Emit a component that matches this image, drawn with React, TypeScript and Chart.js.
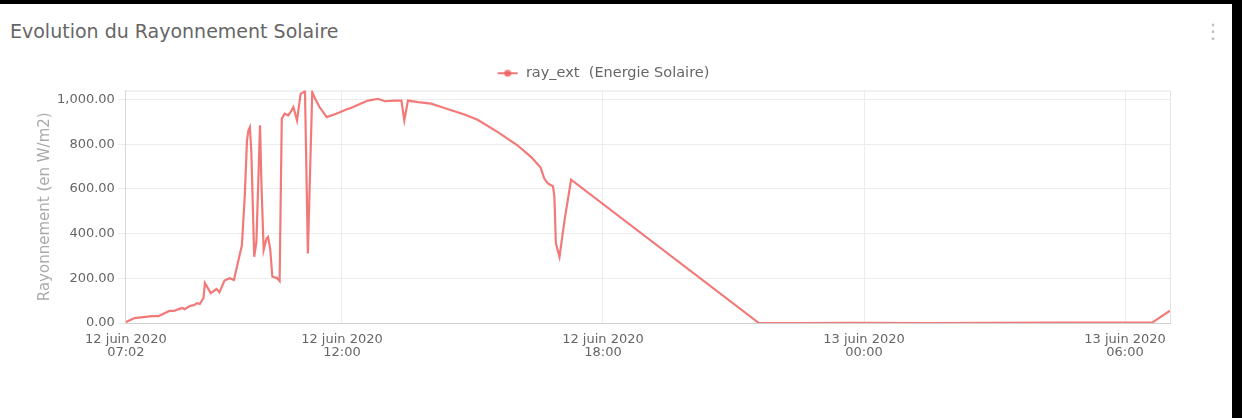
import React, { useEffect, useRef } from "react";
import { Chart, registerables } from "chart.js";

Chart.register(...registerables);

const titleText = "Evolution du Rayonnement Solaire";
const seriesLabel = "ray_ext  (Energie Solaire)";
const yAxisTitle = "Rayonnement (en W/m2)";
const monthName = "juin";

const times = [
  "2020-06-12 07:02", "2020-06-12 07:14", "2020-06-12 07:38", "2020-06-12 07:47", "2020-06-12 07:56",
  "2020-06-12 08:02", "2020-06-12 08:08", "2020-06-12 08:15", "2020-06-12 08:20", "2020-06-12 08:23",
  "2020-06-12 08:30", "2020-06-12 08:36", "2020-06-12 08:40", "2020-06-12 08:44", "2020-06-12 08:49",
  "2020-06-12 08:51", "2020-06-12 08:59", "2020-06-12 09:07", "2020-06-12 09:11", "2020-06-12 09:18",
  "2020-06-12 09:25", "2020-06-12 09:31", "2020-06-12 09:42", "2020-06-12 09:46", "2020-06-12 09:49",
  "2020-06-12 09:51", "2020-06-12 09:53", "2020-06-12 09:55", "2020-06-12 09:59", "2020-06-12 10:02",
  "2020-06-12 10:07", "2020-06-12 10:09", "2020-06-12 10:12", "2020-06-12 10:16", "2020-06-12 10:18",
  "2020-06-12 10:21", "2020-06-12 10:24", "2020-06-12 10:30", "2020-06-12 10:34", "2020-06-12 10:37",
  "2020-06-12 10:41", "2020-06-12 10:46", "2020-06-12 10:49", "2020-06-12 10:53", "2020-06-12 10:55",
  "2020-06-12 10:58", "2020-06-12 11:03", "2020-06-12 11:09", "2020-06-12 11:13", "2020-06-12 11:19",
  "2020-06-12 11:22", "2020-06-12 11:29", "2020-06-12 11:39", "2020-06-12 11:52", "2020-06-12 12:06",
  "2020-06-12 12:13", "2020-06-12 12:24", "2020-06-12 12:36", "2020-06-12 12:50", "2020-06-12 12:59",
  "2020-06-12 13:13", "2020-06-12 13:22", "2020-06-12 13:26", "2020-06-12 13:31", "2020-06-12 13:45",
  "2020-06-12 14:03", "2020-06-12 14:17", "2020-06-12 14:49", "2020-06-12 15:07", "2020-06-12 15:35",
  "2020-06-12 16:02", "2020-06-12 16:21", "2020-06-12 16:34", "2020-06-12 16:39", "2020-06-12 16:44",
  "2020-06-12 16:51", "2020-06-12 16:53", "2020-06-12 16:55", "2020-06-12 17:00", "2020-06-12 17:07",
  "2020-06-12 17:16", "2020-06-12 21:35", "2020-06-12 22:30", "2020-06-12 23:45", "2020-06-13 01:30",
  "2020-06-13 03:00", "2020-06-13 04:30", "2020-06-13 05:45", "2020-06-13 06:38", "2020-06-13 07:02",
];

const rayExt = [
  4, 22, 31, 31, 45,
  54, 54, 62, 67, 62,
  76, 80, 89, 85, 112,
  179, 134, 152, 138, 190,
  200, 192, 348, 571, 817,
  862, 876, 765, 296, 363,
  884, 616, 326, 378, 385,
  333, 207, 202, 187, 914,
  936, 929, 943, 966, 943,
  906, 1025, 1036, 311, 1033,
  1010, 966, 921, 936, 955,
  963, 978, 995, 1003, 992,
  995, 995, 906, 995, 988,
  981, 966, 933, 909, 854,
  795, 742, 695, 646, 624,
  612, 564, 357, 296, 460,
  641, 0, 0, 1, 0,
  1, 2, 2, 3, 55,
];

const xTickTimes = ["2020-06-12 07:02", "2020-06-12 12:00", "2020-06-12 18:00", "2020-06-13 00:00", "2020-06-13 06:00"];
const yTickValues = [0, 200, 400, 600, 800, 1000];
const yMax = 1040;

function toMinutes(s: string): number {
  const day = parseInt(s.slice(8, 10), 10);
  const hh = parseInt(s.slice(11, 13), 10);
  const mm = parseInt(s.slice(14, 16), 10);
  return (day - 12) * 1440 + hh * 60 + mm;
}

function minutesLabel(m: number): string[] {
  const day = 12 + Math.floor(m / 1440);
  const r = m - Math.floor(m / 1440) * 1440;
  const hh = Math.floor(r / 60);
  const mm = Math.round(r - hh * 60);
  const p = (n: number) => (n < 10 ? "0" + n : "" + n);
  return [day + " " + monthName + " 2020", p(hh) + ":" + p(mm)];
}

const lineColor = "rgba(240, 92, 92, 0.82)";
const font = "'DejaVu Sans', sans-serif";

export default function App() {
  const ref = useRef<HTMLCanvasElement | null>(null);

  useEffect(() => {
    document.body.style.margin = "0";
    const canvas = ref.current;
    if (!canvas) return;

    const icon = document.createElement("canvas");
    icon.width = 22;
    icon.height = 10;
    const ic = icon.getContext("2d");
    if (ic) {
      ic.strokeStyle = lineColor;
      ic.lineWidth = 2;
      ic.beginPath();
      ic.moveTo(1, 5);
      ic.lineTo(21, 5);
      ic.stroke();
      ic.fillStyle = lineColor;
      ic.beginPath();
      ic.arc(11, 5, 3.5, 0, Math.PI * 2);
      ic.fill();
    }

    const pts = times.map((t, i) => ({ x: toMinutes(t), y: rayExt[i] }));
    const xMin = toMinutes(times[0]);
    const xMax = toMinutes(times[times.length - 1]);
    const xTicks = xTickTimes.map(toMinutes);

    const borderPlugin = {
      id: "areaBorder",
      beforeDatasetsDraw(chart: any) {
        const { ctx, chartArea } = chart;
        ctx.save();
        ctx.strokeStyle = "#e4e4e4";
        ctx.lineWidth = 1;
        ctx.beginPath();
        ctx.moveTo(chartArea.left, chartArea.top + 0.5);
        ctx.lineTo(chartArea.right + 0.5, chartArea.top + 0.5);
        ctx.lineTo(chartArea.right + 0.5, chartArea.bottom);
        ctx.stroke();
        ctx.restore();
      },
    };

    const chart = new Chart(canvas, {
      type: "line",
      data: {
        datasets: [
          {
            label: seriesLabel,
            data: pts,
            borderColor: lineColor,
            backgroundColor: lineColor,
            borderWidth: 2.2,
            pointRadius: 0,
            pointHoverRadius: 0,
            tension: 0,
            fill: false,
          },
        ],
      },
      options: {
        animation: false,
        responsive: false,
        maintainAspectRatio: false,
        layout: { padding: { top: 52, left: 36, right: 62, bottom: 49 } },
        plugins: {
          legend: {
            display: true,
            position: "top",
            labels: {
              usePointStyle: true,
              pointStyleWidth: 22,
              color: "#666",
              font: { family: font, size: 14.5 },
              padding: 10,
              generateLabels: (c: any) => {
                const items = (Chart.defaults.plugins.legend.labels as any).generateLabels(c);
                items.forEach((it: any) => {
                  it.pointStyle = icon;
                });
                return items;
              },
            },
          },
          tooltip: { enabled: false },
          title: { display: false },
        },
        scales: {
          x: {
            type: "linear",
            min: xMin,
            max: xMax,
            afterBuildTicks: (scale: any) => {
              scale.ticks = xTicks.map((v) => ({ value: v }));
            },
            ticks: {
              autoSkip: false,
              maxRotation: 0,
              color: "#666",
              font: { family: font, size: 13, lineHeight: 1.0 },
              padding: 10,
              callback: (v: any) => minutesLabel(Number(v)),
            },
            grid: { color: "#ececec", drawTicks: false },
            border: { color: "#d0d0d0" },
          },
          y: {
            type: "linear",
            min: 0,
            max: yMax,
            afterBuildTicks: (scale: any) => {
              scale.ticks = yTickValues.map((v) => ({ value: v }));
            },
            title: {
              display: true,
              text: yAxisTitle,
              color: "#aaa",
              font: { family: font, size: 15 },
              padding: { top: 0, bottom: 0 },
            },
            ticks: {
              color: "#666",
              font: { family: font, size: 13 },
              padding: 3,
              callback: (v: any) =>
                Number(v).toLocaleString("en-US", { minimumFractionDigits: 2, maximumFractionDigits: 2 }),
            },
            grid: { color: "#ececec", tickLength: 8 },
            border: { color: "#d8d8d8" },
          },
        },
      },
      plugins: [borderPlugin],
    } as any);

    return () => {
      chart.destroy();
    };
  }, []);

  return (
    <div style={{ position: "relative", width: 1242, height: 418, background: "#000", overflow: "hidden" }}>
      <div
        style={{
          position: "absolute",
          left: 0,
          top: 4,
          width: 1232,
          height: 414,
          background: "#fff",
        }}
      />
      <div
        style={{
          position: "absolute",
          left: 10,
          top: 18,
          fontFamily: font,
          fontSize: 19,
          color: "#666",
          lineHeight: "26px",
          whiteSpace: "nowrap",
        }}
      >
        {titleText}
      </div>
      <div
        style={{
          position: "absolute",
          left: 1203,
          top: 18,
          fontFamily: font,
          fontSize: 20,
          color: "#bbb",
          lineHeight: "26px",
        }}
      >
        ⋮
      </div>
      <canvas
        ref={ref}
        width={1232}
        height={414}
        style={{ position: "absolute", left: 0, top: 4, width: 1232, height: 414 }}
      />
    </div>
  );
}
